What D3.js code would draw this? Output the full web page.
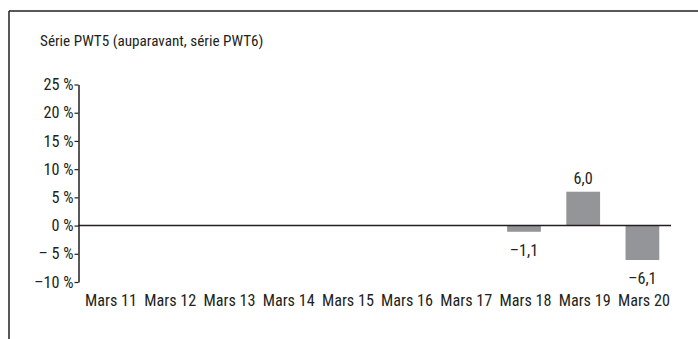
<!DOCTYPE html>
<html>
<head>
<meta charset="utf-8">
<script src="https://cdn.jsdelivr.net/npm/d3@7"></script>
<style>
  html, body { margin: 0; padding: 0; background: #fff; }
  svg { display: block; }
  text { font-family: "Roboto Condensed", "Liberation Sans Narrow", "Arial Narrow", "DejaVu Sans", sans-serif; font-stretch: condensed; fill: #231f20; }
</style>
</head>
<body>
<svg id="chart" width="698" height="339"></svg>
<script>
const title = "Série PWT5 (auparavant, série PWT6)";
const categories = ["Mars 11", "Mars 12", "Mars 13", "Mars 14", "Mars 15", "Mars 16", "Mars 17", "Mars 18", "Mars 19", "Mars 20"];
const values = [null, null, null, null, null, null, null, -1.1, 6.0, -6.1];
const yTicks = [25, 20, 15, 10, 5, 0, -5, -10];
const yTickLabels = ["25 %", "20 %", "15 %", "10 %", "5 %", "0 %", "\u2013 5 %", "\u201310 %"];

const svg = d3.select("#chart");
const ink = "#231f20";
const barColor = "#939598";
const fsTitle = 15.2;
const fs = 16.2;

// frame
svg.append("line").attr("x1", 9).attr("x2", 698).attr("y1", 11).attr("y2", 11)
  .attr("stroke", ink).attr("stroke-width", 1.5);
svg.append("line").attr("x1", 9).attr("x2", 9).attr("y1", 11).attr("y2", 339)
  .attr("stroke", ink).attr("stroke-width", 1.5);

svg.append("text").attr("x", 40).attr("y", 45.5).attr("font-size", fsTitle).text(title);

const x = d3.scaleBand().domain(categories).range([80, 672]).paddingInner(0.43).paddingOuter(0.215);
const y = d3.scaleLinear().domain([-10, 25]).range([282, 84.5]);

const fmt = d3.formatLocale({decimal: ",", thousands: " ", grouping: [3], currency: ["", ""], minus: "\u2013"}).format(".1f");

// y axis
const yAxis = d3.axisLeft(y).tickValues(yTicks).tickSize(4).tickSizeOuter(0)
  .tickFormat((d, i) => yTickLabels[i]);
const gy = svg.append("g").attr("transform", "translate(78.5,0)").call(yAxis);
gy.select(".domain").attr("stroke", ink).attr("stroke-width", 1.5);
gy.selectAll(".tick line").attr("stroke", ink).attr("stroke-width", 1.2);
gy.selectAll(".tick text").attr("font-size", fs).attr("font-family", null).attr("fill", ink).attr("x", -5);

// x labels
const xAxis = d3.axisBottom(x).tickSize(0);
const gx = svg.append("g").attr("transform", "translate(1.5,294)").call(xAxis);
gx.select(".domain").remove();
gx.selectAll(".tick text").attr("font-size", fs).attr("font-family", null).attr("fill", ink).attr("dy", "0.71em").attr("y", 0);

// bars
const data = categories.map((c, i) => ({c, v: values[i]})).filter(d => d.v !== null);
svg.append("g").selectAll("rect").data(data).join("rect")
  .attr("x", d => x(d.c))
  .attr("width", x.bandwidth())
  .attr("y", d => y(Math.max(0, d.v)))
  .attr("height", d => Math.abs(y(d.v) - y(0)))
  .attr("fill", barColor);

// zero line
svg.append("line").attr("x1", 78).attr("x2", 671).attr("y1", y(0)).attr("y2", y(0))
  .attr("stroke", ink).attr("stroke-width", 1.5);

// value labels
svg.append("g").selectAll("text").data(data).join("text")
  .attr("x", d => x(d.c) + x.bandwidth() / 2)
  .attr("y", d => d.v >= 0 ? y(d.v) - 8 : y(d.v) + 24)
  .attr("text-anchor", "middle")
  .attr("font-size", fs)
  .text(d => fmt(d.v));
</script>
</body>
</html>
